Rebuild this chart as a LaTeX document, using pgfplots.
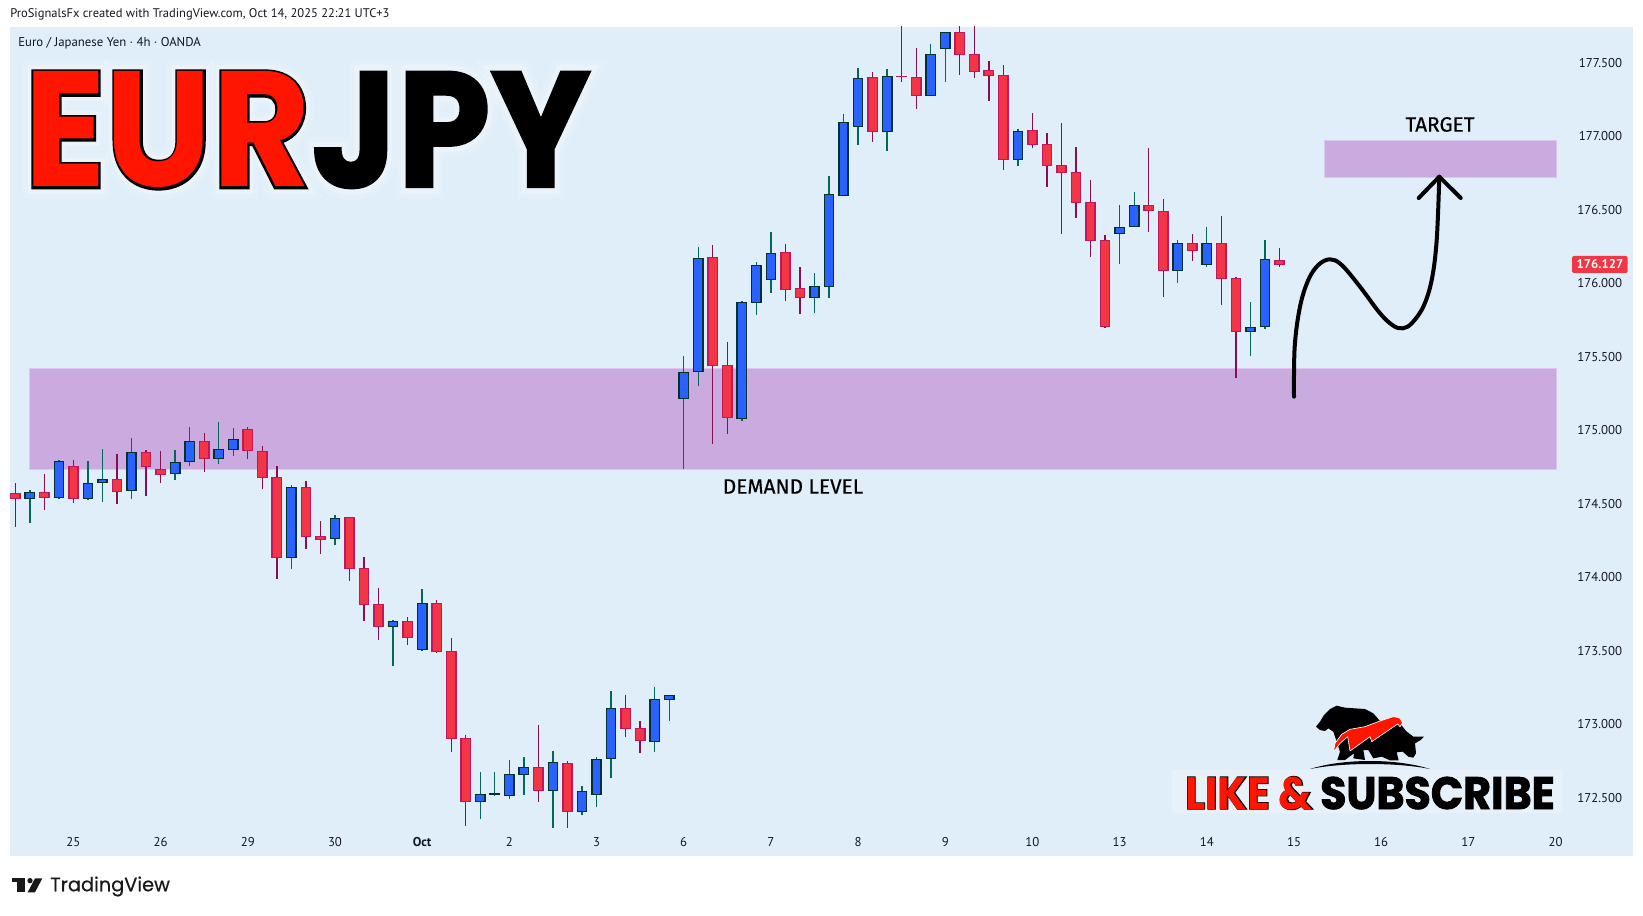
\documentclass[border=0pt]{standalone}
\usepackage{fontspec}
\usepackage{pgfplots}
\pgfplotsset{compat=1.18}
\setmainfont{PT Sans}
\newfontfamily\pop{Poppins}
\newfontfamily\popMed[FakeBold=0.5]{Poppins}
\newfontfamily\popOut[BoldFeatures={FakeBold=3}]{Poppins}
\newfontfamily\popMid[BoldFeatures={FakeBold=1.5}]{Poppins}
\newfontfamily\popGlowA[BoldFeatures={FakeBold=8}]{Poppins}
\newfontfamily\popGlowB[BoldFeatures={FakeBold=14}]{Poppins}
\newfontfamily\popSm[BoldFeatures={FakeBold=2}]{Poppins}
\newfontfamily\popSmO[BoldFeatures={FakeBold=3}]{Poppins}
\newfontfamily\fira[FakeBold=0.4]{Fira Sans}
\definecolor{bg}{RGB}{224,238,249}
\definecolor{zone}{RGB}{203,171,223}
\definecolor{zoneb}{RGB}{221,198,240}
\definecolor{bluef}{RGB}{41,98,255}
\definecolor{blueb}{RGB}{0,51,46}
\definecolor{bluew}{RGB}{0,105,92}
\definecolor{redf}{RGB}{242,54,69}
\definecolor{redb}{RGB}{194,24,91}
\definecolor{redw}{RGB}{136,14,79}
\definecolor{axt}{RGB}{19,23,34}
\definecolor{titred}{RGB}{255,21,0}
% \Up/\Dn{bar}{low}{body bottom}{body top}{high}
\newcommand{\Candle}[8]{%
 \pgfmathsetmacro\xa{#4-0.32}\pgfmathsetmacro\xb{#4+0.32}%
 \addplot[draw=#3,line width=1pt] coordinates {(#4,#5)(#4,#8)};
 \addplot[fill=#1,draw=#2,line width=1.1pt] coordinates {(\xa,#6)(\xb,#6)(\xb,#7)(\xa,#7)} --cycle;
}
\newcommand{\Up}{\Candle{bluef}{blueb}{bluew}}
\newcommand{\Dn}{\Candle{redf}{redb}{redw}}
\begin{document}
\begin{tikzpicture}
\useasboundingbox (0,0) rectangle (1232.25pt,-687pt);
\fill[white] (0,0) rectangle (1232.25pt,-687pt);
\begin{axis}[
  at={(7.5pt,-20.025pt)},anchor=north west,
  scale only axis,width=1217.25pt,height=622pt,
  xmin=-0.365,xmax=111.33,ymin=172.103,ymax=177.745,
  axis background/.style={fill=bg},
  axis line style={draw=none},
  major tick length=0pt,
  xtick={4,10,16,22,28,34,40,46,52,58,64,70,76,82,88,94,100,106},
  xticklabels={25,26,29,30,\textbf{Oct},2,3,6,7,8,9,10,13,14,15,16,17,20},
  xticklabel style={anchor=center,yshift=10.7pt,font=\fontsize{9.6}{11}\selectfont,text=axt},
  ytick={172.5,173,173.5,174,174.5,175,175.5,176,176.5,177,177.5},
  yticklabel pos=right,
  yticklabel style={anchor=east,inner sep=0pt,xshift=-8pt,font=\fontsize{9.6}{11}\selectfont,text=axt,
    /pgf/number format/fixed,/pgf/number format/fixed zerofill,/pgf/number format/precision=3,
    /pgf/number format/1000 sep={},/pgf/number format/assume math mode=true},
  clip=true]
\addplot[fill=zone,draw=zoneb,line width=0.8pt] coordinates {(0.96,174.734)(106.07,174.734)(106.07,175.421)(0.96,175.421)} --cycle;
\addplot[fill=zone,draw=zoneb,line width=0.8pt] coordinates {(90.07,176.722)(106.07,176.722)(106.07,176.971)(90.07,176.971)} --cycle;
\Dn{0}{174.344}{174.537}{174.571}{174.639}
\Up{1}{174.371}{174.537}{174.575}{174.591}
\Dn{2}{174.459}{174.543}{174.577}{174.702}
\Up{3}{174.534}{174.543}{174.788}{174.797}
\Dn{4}{174.507}{174.537}{174.754}{174.797}
\Up{5}{174.527}{174.537}{174.639}{174.790}
\Up{6}{174.514}{174.645}{174.666}{174.872}
\Dn{7}{174.500}{174.584}{174.666}{174.838}
\Up{8}{174.534}{174.591}{174.849}{174.947}
\Dn{9}{174.555}{174.754}{174.849}{174.865}
\Dn{10}{174.643}{174.700}{174.734}{174.858}
\Up{11}{174.663}{174.707}{174.781}{174.865}
\Up{12}{174.759}{174.788}{174.924}{175.022}
\Dn{13}{174.718}{174.809}{174.924}{174.981}
\Up{14}{174.772}{174.809}{174.870}{175.056}
\Up{15}{174.827}{174.870}{174.938}{175.015}
\Dn{16}{174.806}{174.863}{175.006}{175.022}
\Dn{17}{174.602}{174.679}{174.856}{174.893}
\Dn{18}{173.990}{174.135}{174.679}{174.757}
\Up{19}{174.058}{174.135}{174.611}{174.627}
\Dn{20}{174.194}{174.278}{174.611}{174.652}
\Dn{21}{174.160}{174.258}{174.278}{174.382}
\Up{22}{174.221}{174.264}{174.400}{174.423}
\Dn{23}{173.976}{174.060}{174.407}{174.410}
\Dn{24}{173.704}{173.815}{174.060}{174.135}
\Dn{25}{173.575}{173.666}{173.815}{173.927}
\Up{26}{173.398}{173.666}{173.700}{173.707}
\Dn{27}{173.541}{173.591}{173.700}{173.729}
\Up{28}{173.500}{173.509}{173.822}{173.920}
\Dn{29}{173.487}{173.496}{173.822}{173.843}
\Dn{30}{172.813}{172.904}{173.496}{173.584}
\Dn{31}{172.310}{172.475}{172.904}{172.924}
\Up{32}{172.357}{172.475}{172.523}{172.673}
\Up{33}{172.514}{172.523}{172.530}{172.673}
\Up{34}{172.493}{172.516}{172.659}{172.756}
\Up{35}{172.521}{172.659}{172.707}{172.775}
\Dn{36}{172.473}{172.550}{172.707}{172.992}
\Up{37}{172.296}{172.550}{172.741}{172.815}
\Dn{38}{172.296}{172.407}{172.734}{172.747}
\Up{39}{172.385}{172.407}{172.543}{172.577}
\Up{40}{172.439}{172.523}{172.761}{172.775}
\Up{41}{172.636}{172.768}{173.108}{173.224}
\Dn{42}{172.915}{172.972}{173.108}{173.196}
\Dn{43}{172.806}{172.890}{172.972}{173.020}
\Up{44}{172.813}{172.883}{173.169}{173.251}
\Up{45}{173.024}{173.169}{173.196}{173.196}
\Up{46}{174.738}{175.217}{175.394}{175.505}
\Up{47}{175.303}{175.400}{176.169}{176.244}
\Dn{48}{174.908}{175.441}{176.176}{176.258}
\Dn{49}{174.976}{175.088}{175.441}{175.598}
\Up{50}{175.065}{175.081}{175.870}{175.877}
\Up{51}{175.786}{175.870}{176.122}{176.142}
\Up{52}{175.936}{176.026}{176.203}{176.346}
\Dn{53}{175.881}{175.958}{176.210}{176.264}
\Dn{54}{175.793}{175.904}{175.965}{176.108}
\Up{55}{175.800}{175.904}{175.979}{176.067}
\Up{56}{175.902}{175.979}{176.605}{176.727}
\Up{57}{176.598}{176.598}{177.094}{177.149}
\Up{58}{176.942}{177.067}{177.394}{177.462}
\Dn{59}{176.963}{177.033}{177.401}{177.435}
\Up{60}{176.902}{177.033}{177.407}{177.455}
\Dn{61}{177.367}{177.405}{177.407}{177.800}
\Dn{62}{177.187}{177.278}{177.401}{177.598}
\Up{63}{177.278}{177.278}{177.557}{177.625}
\Up{64}{177.367}{177.598}{177.707}{177.707}
\Dn{65}{177.419}{177.557}{177.707}{177.800}
\Dn{66}{177.398}{177.441}{177.557}{177.800}
\Dn{67}{177.242}{177.414}{177.448}{177.509}
\Dn{68}{176.772}{176.843}{177.414}{177.482}
\Up{69}{176.800}{176.843}{177.033}{177.047}
\Dn{70}{176.922}{176.945}{177.040}{177.156}
\Dn{71}{176.657}{176.802}{176.945}{177.020}
\Dn{72}{176.337}{176.754}{176.802}{177.088}
\Dn{73}{176.446}{176.550}{176.754}{176.924}
\Dn{74}{176.181}{176.292}{176.550}{176.700}
\Dn{75}{175.698}{175.707}{176.292}{176.326}
\Up{76}{176.133}{176.339}{176.380}{176.530}
\Up{77}{176.387}{176.387}{176.530}{176.618}
\Dn{78}{176.351}{176.496}{176.530}{176.918}
\Dn{79}{175.908}{176.088}{176.489}{176.571}
\Up{80}{176.004}{176.088}{176.271}{176.292}
\Dn{81}{176.153}{176.224}{176.271}{176.333}
\Up{82}{176.113}{176.128}{176.271}{176.380}
\Dn{83}{175.854}{176.033}{176.271}{176.455}
\Dn{84}{175.357}{175.673}{176.033}{176.040}
\Up{85}{175.507}{175.673}{175.700}{175.870}
\Up{86}{175.691}{175.707}{176.162}{176.292}
\Dn{87}{176.113}{176.128}{176.156}{176.237}
\end{axis}
\begin{scope}[x=0.75pt,y=-0.75pt]
% header texts
\node[anchor=west,inner sep=0pt,text=axt,font=\fontsize{9.4}{11}\selectfont] at (10,14) {ProSignalsFx created with TradingView.com, Oct 14, 2025 22:21 UTC+3};
\node[anchor=west,inner sep=0pt,text=axt,font=\fontsize{9.6}{11}\selectfont] at (18,43.5) {Euro / Japanese Yen · 4h · OANDA};
% title with glow and outline
\def\tfs{\fontsize{123}{125}\selectfont}
\def\tsc{0.92}
\def\tsd{0.91}
\foreach \op/\fam in {0.14/\popGlowB,0.24/\popGlowA}{
 \node[anchor=base west,inner sep=0pt,text=white,opacity=\op,xscale=\tsc] at (24,187) {\tfs\fam\bfseries EUR};
 \node[anchor=base west,inner sep=0pt,text=white,opacity=\op,xscale=\tsd] at (311,187) {\tfs\fam\bfseries JPY};
}
\node[anchor=base west,inner sep=0pt,text=black,xscale=\tsc] at (24,187) {\tfs\popOut\bfseries EUR};
\node[anchor=base west,inner sep=0pt,text=titred,xscale=\tsc] at (24,187) {\tfs\pop\bfseries EUR};
\node[anchor=base west,inner sep=0pt,text=black,xscale=\tsd] at (311,187) {\tfs\popMid\bfseries JPY};
% labels
\node[inner sep=0pt,text=black,font=\fira\fontsize{15.6}{17}\selectfont] at (793,486.5) {DEMAND LEVEL};
\node[inner sep=0pt,text=black,font=\fira\fontsize{15.6}{17}\selectfont] at (1440,124.5) {TARGET};
% hand-drawn path and arrow
\draw[black,line width=3pt,line cap=round,line join=round] plot[smooth,tension=0.6] coordinates {(1294,396.7)(1294.7,346.7)(1300,306.7)(1308.3,280)(1318.3,265)(1330,259.3)(1341.7,265)(1360,286.7)(1380,313.3)(1393.3,325.7)(1402.7,328.3)(1411.7,323.3)(1423.3,306.7)(1431.7,280)(1436.7,240)(1439.3,176.7)};
\draw[black,line width=3pt,line cap=round,line join=round] (1418.7,198)--(1439.3,176.7)--(1460.7,198);
% last price tag
\fill[redf,rounded corners=1.5pt] (1572,256) rectangle (1627.7,273);
\node[inner sep=0pt,text=white,font=\bfseries\fontsize{9.6}{11}\selectfont] at (1600,264.5) {176.127};
% logo
\fill[white,opacity=0.2] (1172,770) rectangle (1562,813);
\begin{scope}[shift={(1300,695)},x=0.25pt,y=-0.25pt]
\fill[black] (48,95)--(60,80)--(72,60)--(90,42)--(110,32)--(135,38)--(165,40)--(195,42)--(220,55)--(240,78)--(300,85)--(318,108)--(340,125)--(372,125)--(362,135)--(345,145)--(348,175)--(340,188)--(325,185)--(308,170)--(290,172)--(296,196)--(270,196)--(245,185)--(220,190)--(205,165)--(190,165)--(195,195)--(160,190)--(162,175)--(135,195)--(112,195)--(120,170)--(110,140)--(100,110)--(85,100)--(75,108)--(60,105)--cycle;
\fill[black] (30,222) .. controls (130,190) and (290,190) .. (390,222) .. controls (290,202) and (130,202) .. (30,222)--cycle;
\filldraw[fill=titred,draw=white,line width=0.5pt,line join=round] (100,172)--(105,145)--(125,118)--(150,103)--(195,95)--(240,78)--(280,65)--(298,68)--(308,83)--(300,95)--(293,87)--(215,140)--(210,125)--(150,168)--(143,125)--(120,145)--cycle;
\end{scope}
\def\lfs{\fontsize{34}{36}\selectfont}
\node[anchor=base west,inner sep=0pt,text=black,xscale=0.93] at (1185,809) {\lfs\popSmO\bfseries LIKE \&};
\node[anchor=base west,inner sep=0pt,text=titred,xscale=0.93] at (1185,809) {\lfs\pop\bfseries LIKE \&};
\node[anchor=base east,inner sep=0pt,text=black,xscale=0.94] at (1555,809) {\lfs\popSm\bfseries SUBSCRIBE};
% TradingView mark
\begin{scope}[shift={(0,850)},x=0.25pt,y=-0.25pt]
\fill[black!90] (37,85) rectangle (75,97);
\fill[black!90] (52,85) rectangle (75,127);
\fill[black!90] (90,92) circle (8);
\fill[black!90] (105,85)--(127,85)--(105,127)--(83,127)--cycle;
\end{scope}
\node[anchor=west,inner sep=0pt,text=black!90,font=\popMed\fontsize{14.5}{16}\selectfont] at (50,886.5) {TradingView};
\end{scope}
\end{tikzpicture}
\end{document}
